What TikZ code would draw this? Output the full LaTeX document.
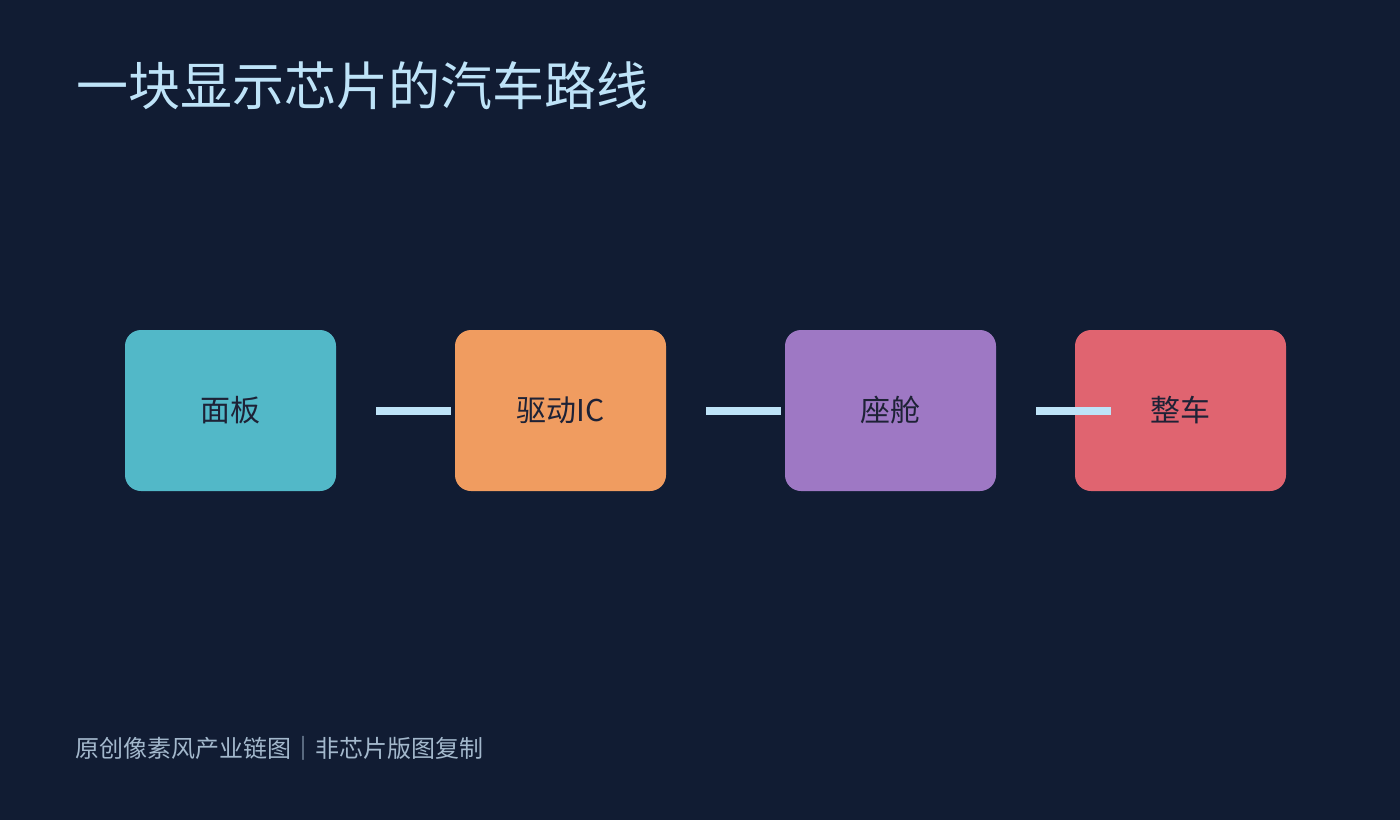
\documentclass[tikz,border=0pt]{standalone}
\usepackage{fontspec}
\setmainfont{Noto Sans CJK SC}
\definecolor{bg}{HTML}{111C33}
\definecolor{titlec}{HTML}{BEE3F8}
\definecolor{footc}{HTML}{A3B8CC}
\definecolor{linec}{HTML}{BEE3F8}
\definecolor{txtc}{HTML}{1E2236}
\definecolor{c1}{HTML}{52B8C8}
\definecolor{c2}{HTML}{F09C60}
\definecolor{c3}{HTML}{9E78C4}
\definecolor{c4}{HTML}{E06470}
\begin{document}
\begin{tikzpicture}[x=1pt,y=-1pt,
  stagebox/.style={rounded corners=16pt, minimum width=211pt, minimum height=161pt, inner sep=0pt, text=txtc, font=\fontsize{30}{34}\selectfont},
  link/.style={draw=linec, line width=8pt}]
\fill[bg] (0,0) rectangle (1400,820);
\useasboundingbox (0,0) rectangle (1400,820);
\node[anchor=west, text=titlec, font=\fontsize{52}{60}\selectfont, inner sep=0pt] (title) at (76,86) {一块显示芯片的汽车路线};
\node[stagebox, fill=c1] (a) at (230.5,410.5) {面板};
\node[stagebox, fill=c2] (b) at (560.5,410.5) {驱动IC};
\node[stagebox, fill=c3] (c) at (890.5,410.5) {座舱};
\node[stagebox, fill=c4] (d) at (1180.5,410.5) {整车};
\draw[link] ([xshift=40pt]a.east) -- ([xshift=-4pt]b.west);
\draw[link] ([xshift=40pt]b.east) -- ([xshift=-4pt]c.west);
\draw[link] ([xshift=40pt]c.east) -- ([xshift=36pt]d.west);
\node[anchor=west, text=footc, font=\fontsize{24}{28}\selectfont, inner sep=0pt] (foot) at (75,748) {原创像素风产业链图｜非芯片版图复制};
\end{tikzpicture}
\end{document}
